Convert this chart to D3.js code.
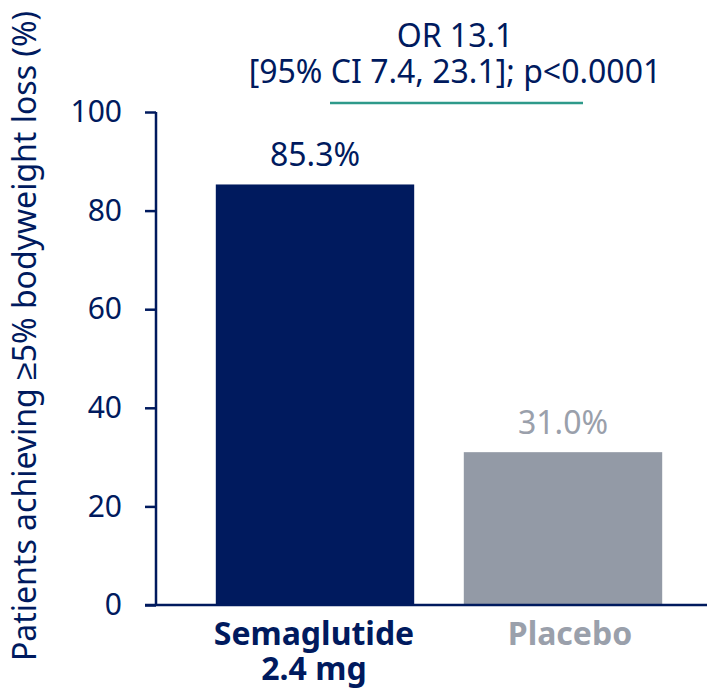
<!DOCTYPE html>
<html><head><meta charset="utf-8">
<script src="https://cdn.jsdelivr.net/npm/d3@7"></script>
<style>body{margin:0;background:#fff}svg{display:block}text{font-family:"Noto Sans",sans-serif}</style>
</head><body><div id="c"></div>
<script>
const categories = ["Semaglutide\n2.4 mg", "Placebo"];
const values = [85.3, 31.0];
const valueLabels = ["85.3%", "31.0%"];
const yTicks = [0, 20, 40, 60, 80, 100];
const annotation = ["OR 13.1", "[95% CI 7.4, 23.1]; p<0.0001"];
const yTitle = "Patients achieving ≥5% bodyweight loss (%)";

const navy = "#001a5e", gray = "#939aa6", grayText = "#9aa0ab", teal = "#2e9a8a";
const W = 707, H = 692;
const svg = d3.select("#c").append("svg").attr("width", W).attr("height", H);
const y = d3.scaleLinear().domain([0, 100]).range([605, 112]);
const x = d3.scaleBand().domain(categories).range([191, 687]).paddingInner(0.2).paddingOuter(0.1);

// axis
const ax = svg.append("g").attr("transform", "translate(156,0)")
  .call(d3.axisLeft(y).tickValues(yTicks).tickSize(11).tickPadding(23).tickSizeOuter(0));
ax.select(".domain").attr("stroke", navy).attr("stroke-width", 2.5).attr("d", "M0,112V605");
ax.selectAll(".tick line").attr("stroke", navy).attr("stroke-width", 2.5);
ax.selectAll(".tick text").attr("fill", navy).attr("font-size", 30).attr("font-family", "Noto Sans");

// bars
svg.selectAll("rect.bar").data(values).enter().append("rect")
  .attr("x", (d, i) => x(categories[i])).attr("width", x.bandwidth())
  .attr("y", d => y(d)).attr("height", d => y(0) - y(d))
  .attr("fill", (d, i) => i === 0 ? navy : gray);

// x axis line
svg.append("line").attr("x1", 145).attr("x2", W).attr("y1", y(0)).attr("y2", y(0))
  .attr("stroke", navy).attr("stroke-width", 2.5);

// value labels
svg.selectAll("text.val").data(values).enter().append("text")
  .attr("x", (d, i) => x(categories[i]) + x.bandwidth() / 2).attr("y", d => y(d) - 18)
  .attr("text-anchor", "middle").attr("font-size", 32)
  .attr("fill", (d, i) => i === 0 ? navy : grayText).text((d, i) => valueLabels[i]);

// category labels
categories.forEach((c, i) => {
  const cx = x(c) + x.bandwidth() / 2 + (i === 0 ? -1 : 7);
  const t = svg.append("text").attr("x", cx).attr("y", 645)
    .attr("text-anchor", "middle").attr("font-size", 32).attr("font-weight", "bold")
    .attr("fill", i === 0 ? navy : grayText);
  c.split("\n").forEach((l, j) => t.append("tspan").attr("x", cx).attr("dy", j ? 35 : 0).text(l));
});

// annotation
annotation.forEach((l, j) => svg.append("text").attr("x", 455).attr("y", 47 + j * 36)
  .attr("text-anchor", "middle").attr("font-size", 32).attr("fill", navy).text(l));
svg.append("line").attr("x1", 330).attr("x2", 583).attr("y1", 103).attr("y2", 103)
  .attr("stroke", teal).attr("stroke-width", 2.5);

// y title
svg.append("text").attr("transform", "translate(36,336) rotate(-90)")
  .attr("text-anchor", "middle").attr("font-size", 32).attr("fill", navy).text(yTitle);
</script></body></html>
